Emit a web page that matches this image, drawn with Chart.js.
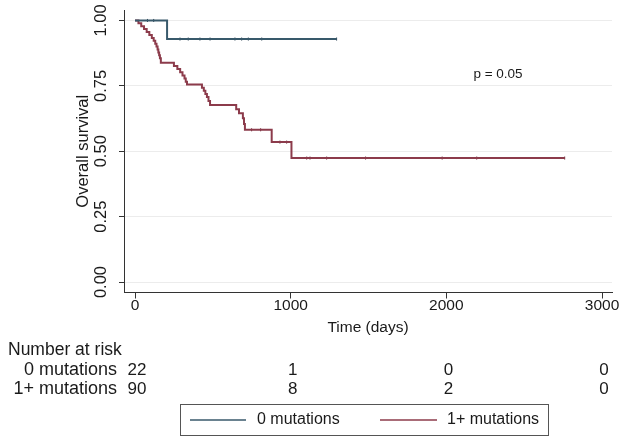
<!DOCTYPE html>
<html>
<head>
<meta charset="utf-8">
<script src="https://cdn.jsdelivr.net/npm/chart.js@4.4.0/dist/chart.umd.min.js"></script>
<style>
  html, body { margin: 0; padding: 0; background: #fff; }
  canvas { display: block; }
</style>
</head>
<body>
<canvas id="kmChart" width="633" height="443"></canvas>
<script>
// tick labels
const xTicks = [0, 1000, 2000, 3000];
const yTicks = [0, 0.25, 0.5, 0.75, 1];
const groups = ['0 mutations', '1+ mutations'];

// Kaplan-Meier steps, 0 mutations
const zeroTimes = [0, 206, 1295];
const zeroSurv = [1, 0.929, 0.929];
const zeroCensor = [80, 120, 289, 342, 417, 482, 642, 685, 728, 814, 1295];

// Kaplan-Meier steps, 1+ mutations
const oneTimes = [0, 22, 40, 58, 75, 92, 108, 120, 130, 138, 145, 150, 155, 160, 166,
    250, 272, 290, 305, 318, 326, 334, 430, 442, 452, 462, 472, 482,
    650, 668, 693, 700, 706, 878, 1005, 2760];
const oneSurv = [1, 0.989, 0.978, 0.967, 0.956, 0.944, 0.933, 0.922, 0.911, 0.9, 0.889, 0.878, 0.867, 0.856, 0.838,
    0.826, 0.814, 0.802, 0.79, 0.778, 0.766, 0.755, 0.743, 0.731, 0.719, 0.707, 0.692, 0.677,
    0.661, 0.645, 0.626, 0.604, 0.582, 0.535, 0.474, 0.474];
const oneCensor = [749, 807, 931, 974, 1103, 1124, 1231, 1481, 1973, 2195, 2760];

// number at risk
const riskTimes = [0, 1000, 2000, 3000];
const riskZero = [22, 1, 0, 0];
const riskOne = [90, 8, 2, 0];

const blue = '#38596b';
const red = '#8c3b4b';
const FONT = '"Liberation Sans", Arial, Helvetica, sans-serif';

function pts(times, surv) {
    return times.map((t, i) => ({ x: t, y: surv[i] }));
}

// level of the step curve at time t
function levelAt(times, surv, t) {
    let s = surv[0];
    for (let i = 0; i < times.length; i++) {
        if (times[i] <= t) s = surv[i];
    }
    return s;
}

function censorPts(censor, times, surv) {
    return censor.map(t => ({ x: t, y: levelAt(times, surv, t) }));
}

const textPlugin = {
    id: 'kmText',
    afterDraw(chart) {
        const ctx = chart.ctx;
        const xs = chart.scales.x;
        const ys = chart.scales.y;
        const area = chart.chartArea;
        ctx.save();
        ctx.fillStyle = '#1a1a1a';
        ctx.textBaseline = 'middle';

        // y tick labels, rotated
        ctx.font = '16.5px ' + FONT;
        yTicks.forEach(v => {
            ctx.save();
            ctx.translate(101, ys.getPixelForValue(v));
            ctx.rotate(-Math.PI / 2);
            ctx.textAlign = 'center';
            ctx.fillText(v.toFixed(2), 0, 0);
            ctx.restore();
        });

        // y title
        ctx.save();
        ctx.translate(83, (area.top + area.bottom) / 2);
        ctx.rotate(-Math.PI / 2);
        ctx.textAlign = 'center';
        ctx.fillText('Overall survival', 0, 0);
        ctx.restore();

        // x tick labels and title
        ctx.font = '15.5px ' + FONT;
        ctx.textAlign = 'center';
        xTicks.forEach(v => {
            ctx.fillText(String(v), xs.getPixelForValue(v), 306);
        });
        ctx.fillText('Time (days)', (area.left + area.right) / 2, 328);

        // p value
        ctx.font = '13.5px ' + FONT;
        ctx.fillText('p = 0.05', 498, 74);

        // number at risk table
        ctx.font = '17.5px ' + FONT;
        ctx.textAlign = 'left';
        ctx.fillText('Number at risk', 8, 350);
        ctx.font = '18px ' + FONT;
        ctx.textAlign = 'right';
        ctx.fillText(groups[0], 117, 370);
        ctx.fillText(groups[1], 117, 389);
        ctx.font = '17px ' + FONT;
        ctx.textAlign = 'center';
        riskTimes.forEach((t, i) => {
            const px = xs.getPixelForValue(t) + 2;
            ctx.fillText(String(riskZero[i]), px, 370);
            ctx.fillText(String(riskOne[i]), px, 389);
        });

        // legend box
        ctx.strokeStyle = '#555';
        ctx.lineWidth = 1;
        ctx.strokeRect(180.5, 404.5, 368, 31);
        ctx.lineWidth = 1.5;
        ctx.strokeStyle = blue;
        ctx.beginPath(); ctx.moveTo(190, 420); ctx.lineTo(246, 420); ctx.stroke();
        ctx.strokeStyle = red;
        ctx.beginPath(); ctx.moveTo(380, 420); ctx.lineTo(437, 420); ctx.stroke();
        ctx.font = '16px ' + FONT;
        ctx.textAlign = 'left';
        ctx.fillText(groups[0], 257, 420);
        ctx.fillText(groups[1], 447, 420);

        ctx.restore();
    }
};

const ctx = document.getElementById('kmChart').getContext('2d');

const kmChart = new Chart(ctx, {
    type: 'line',
    data: {
        datasets: [
            {
                label: groups[0],
                data: pts(zeroTimes, zeroSurv),
                borderColor: blue,
                borderWidth: 2,
                stepped: true,
                pointRadius: 0,
                fill: false
            },
            {
                label: groups[1],
                data: pts(oneTimes, oneSurv),
                borderColor: red,
                borderWidth: 2,
                stepped: true,
                pointRadius: 0,
                fill: false
            },
            {
                label: 'censor0',
                data: censorPts(zeroCensor, zeroTimes, zeroSurv),
                showLine: false,
                pointStyle: 'line',
                rotation: 90,
                pointRadius: 1.5,
                borderWidth: 1,
                borderColor: '#2a4252'
            },
            {
                label: 'censor1',
                data: censorPts(oneCensor, oneTimes, oneSurv),
                showLine: false,
                pointStyle: 'line',
                rotation: 90,
                pointRadius: 1.5,
                borderWidth: 1,
                borderColor: '#6a2a38'
            }
        ]
    },
    options: {
        responsive: false,
        animation: false,
        devicePixelRatio: 1,
        layout: { padding: { top: 10, right: 21, left: 0, bottom: 0 } },
        plugins: {
            legend: { display: false },
            tooltip: { enabled: false }
        },
        scales: {
            x: {
                type: 'linear',
                min: -70.7,
                max: 3064,
                afterBuildTicks: s => { s.ticks = xTicks.map(v => ({ value: v })); },
                afterFit: s => { s.height = 150.5; },
                ticks: { display: false },
                grid: {
                    drawOnChartArea: false,
                    drawTicks: true,
                    tickLength: 6,
                    tickColor: '#333'
                },
                border: { display: true, color: '#333', width: 1 }
            },
            y: {
                min: -0.04,
                max: 1.04,
                afterBuildTicks: s => { s.ticks = yTicks.map(v => ({ value: v })); },
                afterFit: s => { s.width = 124; },
                ticks: { display: false },
                grid: {
                    color: '#ececec',
                    drawTicks: true,
                    tickLength: 5,
                    tickColor: '#333'
                },
                border: { display: true, color: '#333', width: 1 }
            }
        }
    },
    plugins: [textPlugin]
});
</script>
</body>
</html>
